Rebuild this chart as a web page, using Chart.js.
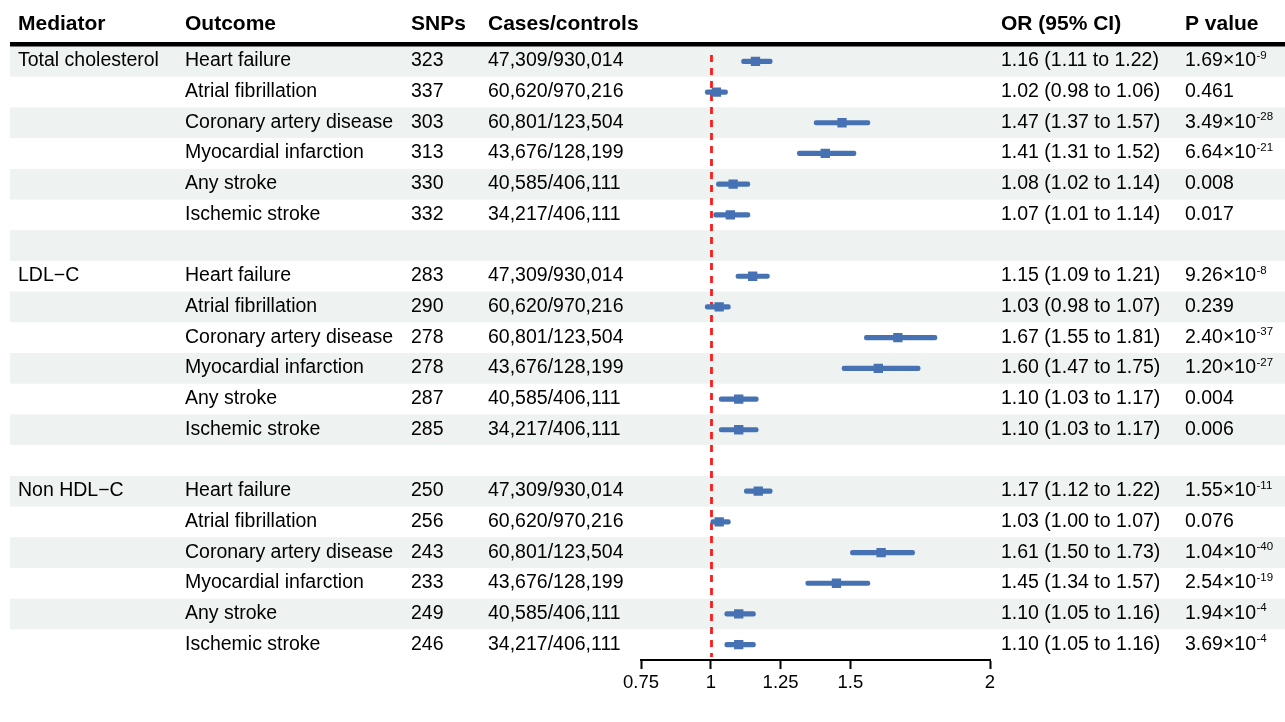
<!DOCTYPE html>
<html>
<head>
<meta charset="utf-8">
<script src="https://cdn.jsdelivr.net/npm/chart.js@4/dist/chart.umd.min.js"></script>
<style>
  html, body { margin: 0; padding: 0; background: #ffffff; }
  #wrap { width: 1285px; height: 722px; position: relative; }
</style>
</head>
<body>
<div id="wrap"><canvas id="c" width="1285" height="722"></canvas></div>
<script>
// ---------------- data ----------------
const MEDIATORS = ['Total cholesterol', 'LDL\u2212C', 'Non HDL\u2212C'];
const OUTCOMES = ['Heart failure', 'Atrial fibrillation', 'Coronary artery disease',
                  'Myocardial infarction', 'Any stroke', 'Ischemic stroke'];
const CASES_CONTROLS = ['47,309/930,014', '60,620/970,216', '60,801/123,504',
                        '43,676/128,199', '40,585/406,111', '34,217/406,111'];

const SNPS_TC     = [323, 337, 303, 313, 330, 332];
const SNPS_LDL    = [283, 290, 278, 278, 287, 285];
const SNPS_NONHDL = [250, 256, 243, 233, 249, 246];

const OR_TC      = [1.16, 1.02, 1.47, 1.41, 1.08, 1.07];
const LO_TC      = [1.11, 0.98, 1.37, 1.31, 1.02, 1.01];
const HI_TC      = [1.22, 1.06, 1.57, 1.52, 1.14, 1.14];

const OR_LDL     = [1.15, 1.03, 1.67, 1.60, 1.10, 1.10];
const LO_LDL     = [1.09, 0.98, 1.55, 1.47, 1.03, 1.03];
const HI_LDL     = [1.21, 1.07, 1.81, 1.75, 1.17, 1.17];

const OR_NONHDL  = [1.17, 1.03, 1.61, 1.45, 1.10, 1.10];
const LO_NONHDL  = [1.12, 1.00, 1.50, 1.34, 1.05, 1.05];
const HI_NONHDL  = [1.22, 1.07, 1.73, 1.57, 1.16, 1.16];

const P_TC     = ['1.69\u00d710^-9', '0.461', '3.49\u00d710^-28', '6.64\u00d710^-21', '0.008', '0.017'];
const P_LDL    = ['9.26\u00d710^-8', '0.239', '2.40\u00d710^-37', '1.20\u00d710^-27', '0.004', '0.006'];
const P_NONHDL = ['1.55\u00d710^-11', '0.076', '1.04\u00d710^-40', '2.54\u00d710^-19', '1.94\u00d710^-4', '3.69\u00d710^-4'];

const X_TICKS = [0.75, 1, 1.25, 1.5, 2];
const X_MIN = 0.75, X_MAX = 2;
const REF_VALUE = 1;

const HEADERS = ['Mediator', 'Outcome', 'SNPs', 'Cases/controls', 'OR (95% CI)', 'P value'];

// ---------------- build rows ----------------
const GROUPS = [
  { med: MEDIATORS[0], snps: SNPS_TC,     or: OR_TC,     lo: LO_TC,     hi: HI_TC,     p: P_TC },
  { med: MEDIATORS[1], snps: SNPS_LDL,    or: OR_LDL,    lo: LO_LDL,    hi: HI_LDL,    p: P_LDL },
  { med: MEDIATORS[2], snps: SNPS_NONHDL, or: OR_NONHDL, lo: LO_NONHDL, hi: HI_NONHDL, p: P_NONHDL }
];
const rows = [];
GROUPS.forEach((g, gi) => {
  OUTCOMES.forEach((o, i) => {
    rows.push({
      key: gi + '_' + i,
      med: i === 0 ? g.med : '',
      outcome: o,
      snps: String(g.snps[i]),
      cc: CASES_CONTROLS[i],
      or: g.or[i], lo: g.lo[i], hi: g.hi[i],
      orText: g.or[i].toFixed(2) + ' (' + g.lo[i].toFixed(2) + ' to ' + g.hi[i].toFixed(2) + ')',
      p: g.p[i]
    });
  });
  if (gi < GROUPS.length - 1) rows.push({ key: 'blank' + gi, blank: true });
});
const ROW_KEYS = rows.map(r => r.key);

// ---------------- styling constants ----------------
const FONT = '"Liberation Sans", Arial, Helvetica, sans-serif';
const BODY_SIZE = 19.5;
const HEAD_SIZE = 21;
const BLUE = '#4672B4';
const SHADE = '#EEF2F0';
const COL_X = [18, 185, 411, 488, 1001, 1185];

const tablePlugin = {
  id: 'forestTable',
  beforeDraw(chart) {
    const ctx = chart.ctx;
    const y = chart.scales.y;
    ctx.save();
    ctx.fillStyle = '#ffffff';
    ctx.fillRect(0, 0, chart.width, chart.height);
    const band = y.getPixelForValue(1) - y.getPixelForValue(0);
    ctx.fillStyle = SHADE;
    rows.forEach((r, i) => {
      if (i % 2 === 0) {
        const c = y.getPixelForValue(i);
        ctx.fillRect(10, c - band / 2, chart.width - 10, band);
      }
    });
    // header rule
    ctx.fillStyle = '#000';
    ctx.fillRect(10, chart.chartArea.top - 4, chart.width - 10, 4.5);
    ctx.restore();
  },
  beforeDatasetsDraw(chart) {
    const ctx = chart.ctx;
    const x = chart.scales.x;
    const px = Math.round(x.getPixelForValue(REF_VALUE)) + 0.5;
    ctx.save();
    ctx.strokeStyle = '#FF1A1A';
    ctx.lineWidth = 2.8;
    ctx.setLineDash([7, 6]);
    ctx.beginPath();
    ctx.moveTo(px, chart.chartArea.top + 9);
    ctx.lineTo(px, chart.chartArea.bottom - 3);
    ctx.stroke();
    ctx.restore();
  },
  afterDraw(chart) {
    const ctx = chart.ctx;
    const y = chart.scales.y;
    ctx.save();
    ctx.fillStyle = '#000';
    ctx.textBaseline = 'alphabetic';
    ctx.textAlign = 'left';
    // headers
    ctx.font = 'bold ' + HEAD_SIZE + 'px ' + FONT;
    HEADERS.forEach((h, i) => ctx.fillText(h, COL_X[i], 29.5));
    // body
    rows.forEach((r, i) => {
      if (r.blank) return;
      const base = y.getPixelForValue(i) + 5;
      ctx.font = BODY_SIZE + 'px ' + FONT;
      ctx.fillText(r.med, COL_X[0], base);
      ctx.fillText(r.outcome, COL_X[1], base);
      ctx.fillText(r.snps, COL_X[2], base);
      ctx.fillText(r.cc, COL_X[3], base);
      ctx.fillText(r.orText, COL_X[4], base);
      const parts = r.p.split('^');
      ctx.fillText(parts[0], COL_X[5], base);
      if (parts.length > 1) {
        const w = ctx.measureText(parts[0]).width;
        ctx.font = '11.5px ' + FONT;
        ctx.fillText(parts[1], COL_X[5] + w + 0.5, base - 7.5);
      }
    });
    ctx.restore();
  }
};

new Chart(document.getElementById('c'), {
  data: {
    labels: ROW_KEYS,
    datasets: [
      {
        type: 'bar',
        indexAxis: 'y',
        data: rows.map(r => r.blank ? null : [r.lo, r.hi]),
        backgroundColor: BLUE,
        borderWidth: 0,
        borderSkipped: false,
        borderRadius: 2.5,
        barThickness: 4.5,
        xAxisID: 'x', yAxisID: 'y'
      },
      {
        type: 'scatter',
        data: rows.filter(r => !r.blank).map(r => ({ x: r.or, y: r.key })),
        pointStyle: 'rect',
        radius: 6.6,
        backgroundColor: BLUE,
        borderWidth: 0,
        xAxisID: 'x', yAxisID: 'y'
      }
    ]
  },
  options: {
    indexAxis: 'y',
    responsive: false,
    devicePixelRatio: 1,
    animation: false,
    events: [],
    layout: { padding: { left: 641, right: 295, top: 46, bottom: 32 } },
    plugins: { legend: { display: false }, tooltip: { enabled: false } },
    scales: {
      y: {
        type: 'category',
        labels: ROW_KEYS,
        offset: true,
        display: false
      },
      x: {
        type: 'linear',
        position: 'bottom',
        min: X_MIN, max: X_MAX,
        afterBuildTicks: (s) => { s.ticks = X_TICKS.map(v => ({ value: v })); },
        afterFit: (s) => { s.height = 30; },
        grid: { drawOnChartArea: false, drawTicks: true, tickLength: 9, tickColor: '#000', tickWidth: 2 },
        border: { display: true, color: '#000', width: 2 },
        ticks: {
          color: '#000',
          font: { family: FONT, size: 18.5 },
          padding: 3,
          maxRotation: 0,
          autoSkip: false,
          callback: (v) => String(v)
        }
      }
    }
  },
  plugins: [tablePlugin]
});
</script>
</body>
</html>
